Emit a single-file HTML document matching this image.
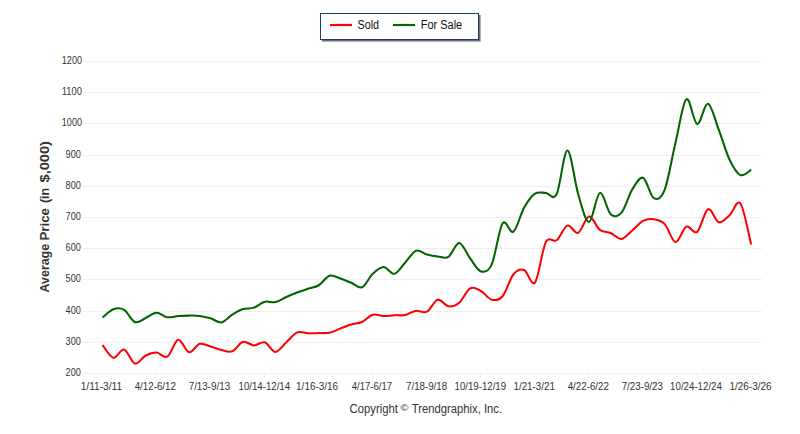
<!DOCTYPE html>
<html><head><meta charset="utf-8"><title>Average Price</title>
<style>
html,body{margin:0;padding:0;background:#fff;}
body{width:800px;height:434px;overflow:hidden;font-family:"Liberation Sans",sans-serif;}
svg{display:block}
text{font-family:"Liberation Sans",sans-serif;}
</style></head><body>
<svg width="800" height="434" viewBox="0 0 800 434">
<rect width="800" height="434" fill="#fff"/>

<g stroke="#eeeeee" stroke-width="1" shape-rendering="crispEdges">
<line x1="83" x2="762" y1="61.5" y2="61.5"/>
<line x1="83" x2="762" y1="92.5" y2="92.5"/>
<line x1="83" x2="762" y1="123.5" y2="123.5"/>
<line x1="83" x2="762" y1="155.5" y2="155.5"/>
<line x1="83" x2="762" y1="186.5" y2="186.5"/>
<line x1="83" x2="762" y1="217.5" y2="217.5"/>
<line x1="83" x2="762" y1="248.5" y2="248.5"/>
<line x1="83" x2="762" y1="279.5" y2="279.5"/>
<line x1="83" x2="762" y1="311.5" y2="311.5"/>
<line x1="83" x2="762" y1="342.5" y2="342.5"/>
<line x1="83" x2="762" y1="373.5" y2="373.5"/>
</g>
<g stroke="#eeeeee" stroke-width="1" shape-rendering="crispEdges">
<line x1="102.5" x2="102.5" y1="373" y2="378"/>
<line x1="156.5" x2="156.5" y1="373" y2="378"/>
<line x1="210.5" x2="210.5" y1="373" y2="378"/>
<line x1="264.5" x2="264.5" y1="373" y2="378"/>
<line x1="318.5" x2="318.5" y1="373" y2="378"/>
<line x1="372.5" x2="372.5" y1="373" y2="378"/>
<line x1="426.5" x2="426.5" y1="373" y2="378"/>
<line x1="480.5" x2="480.5" y1="373" y2="378"/>
<line x1="534.5" x2="534.5" y1="373" y2="378"/>
<line x1="588.5" x2="588.5" y1="373" y2="378"/>
<line x1="642.5" x2="642.5" y1="373" y2="378"/>
<line x1="696.5" x2="696.5" y1="373" y2="378"/>
<line x1="750.5" x2="750.5" y1="373" y2="378"/>
</g>
<g font-size="11" fill="#333">
<text x="61.8" y="64.3" textLength="20.2" lengthAdjust="spacingAndGlyphs">1200</text>
<text x="61.8" y="95.3" textLength="20.2" lengthAdjust="spacingAndGlyphs">1100</text>
<text x="61.8" y="126.3" textLength="20.2" lengthAdjust="spacingAndGlyphs">1000</text>
<text x="65.6" y="158.3" textLength="15.2" lengthAdjust="spacingAndGlyphs">900</text>
<text x="65.6" y="189.3" textLength="15.2" lengthAdjust="spacingAndGlyphs">800</text>
<text x="65.6" y="220.3" textLength="15.2" lengthAdjust="spacingAndGlyphs">700</text>
<text x="65.6" y="251.3" textLength="15.2" lengthAdjust="spacingAndGlyphs">600</text>
<text x="65.6" y="282.3" textLength="15.2" lengthAdjust="spacingAndGlyphs">500</text>
<text x="65.6" y="314.3" textLength="15.2" lengthAdjust="spacingAndGlyphs">400</text>
<text x="65.6" y="345.3" textLength="15.2" lengthAdjust="spacingAndGlyphs">300</text>
<text x="65.6" y="376.3" textLength="15.2" lengthAdjust="spacingAndGlyphs">200</text>
</g>
<g font-size="11" fill="#333">
<text x="80.7" y="390.4" textLength="41.4" lengthAdjust="spacingAndGlyphs">1/11-3/11</text>
<text x="134.7" y="390.4" textLength="41.2" lengthAdjust="spacingAndGlyphs">4/12-6/12</text>
<text x="188.7" y="390.4" textLength="41.4" lengthAdjust="spacingAndGlyphs">7/13-9/13</text>
<text x="238.5" y="390.4" textLength="51.6" lengthAdjust="spacingAndGlyphs">10/14-12/14</text>
<text x="296.1" y="390.4" textLength="42.0" lengthAdjust="spacingAndGlyphs">1/16-3/16</text>
<text x="351.7" y="390.4" textLength="40.4" lengthAdjust="spacingAndGlyphs">4/17-6/17</text>
<text x="406.1" y="390.4" textLength="41.0" lengthAdjust="spacingAndGlyphs">7/18-9/18</text>
<text x="454.5" y="390.4" textLength="51.6" lengthAdjust="spacingAndGlyphs">10/19-12/19</text>
<text x="513.5" y="390.4" textLength="41.4" lengthAdjust="spacingAndGlyphs">1/21-3/21</text>
<text x="567.7" y="390.4" textLength="41.2" lengthAdjust="spacingAndGlyphs">4/22-6/22</text>
<text x="621.7" y="390.4" textLength="41.2" lengthAdjust="spacingAndGlyphs">7/23-9/23</text>
<text x="670.1" y="390.4" textLength="51.8" lengthAdjust="spacingAndGlyphs">10/24-12/24</text>
<text x="729.5" y="390.4" textLength="42.0" lengthAdjust="spacingAndGlyphs">1/26-3/26</text>
</g>
<g font-size="13.5" font-weight="bold" fill="#333">
<text transform="translate(48.9,292.4) rotate(-90)" textLength="48.5" lengthAdjust="spacingAndGlyphs">Average</text>
<text transform="translate(48.9,240.6) rotate(-90)" textLength="32.6" lengthAdjust="spacingAndGlyphs">Price</text>
<text transform="translate(48.9,203.1) rotate(-90)" textLength="15.3" lengthAdjust="spacingAndGlyphs">(in</text>
<text transform="translate(48.9,182.5) rotate(-90)" textLength="41.5" lengthAdjust="spacingAndGlyphs">$,000)</text>
</g>
<g font-size="12" fill="#333">
<text x="349.6" y="412.7" textLength="48.3" lengthAdjust="spacingAndGlyphs">Copyright</text>
<text x="400.4" y="410.6" font-size="9.6" textLength="8" lengthAdjust="spacingAndGlyphs">©</text>
<text x="411.8" y="412.7" textLength="90.3" lengthAdjust="spacingAndGlyphs">Trendgraphix, Inc.</text>
</g>
<path d="M102.50,345.00C104.30,347.12 109.71,357.00 113.31,357.75C116.92,358.50 120.52,348.52 124.12,349.50C127.73,350.48 131.33,362.60 134.94,363.60C138.54,364.60 142.14,357.35 145.75,355.50C149.35,353.65 152.96,352.30 156.56,352.50C160.16,352.70 163.77,358.82 167.37,356.70C170.98,354.57 174.58,340.50 178.18,339.75C181.79,339.00 185.39,351.52 189.00,352.20C192.60,352.88 196.20,344.73 199.81,343.80C203.41,342.87 207.02,345.57 210.62,346.60C214.22,347.63 217.83,349.22 221.43,350.00C225.04,350.78 228.64,352.68 232.24,351.30C235.85,349.93 239.45,342.73 243.06,341.75C246.66,340.77 250.26,345.31 253.87,345.40C257.47,345.49 261.08,341.22 264.68,342.30C268.28,343.38 271.89,351.90 275.49,351.90C279.10,351.90 282.70,345.56 286.30,342.30C289.91,339.04 293.51,333.85 297.12,332.35C300.72,330.85 304.32,333.18 307.93,333.30C311.53,333.42 315.14,333.15 318.74,333.05C322.34,332.95 325.95,333.46 329.55,332.70C333.16,331.94 336.76,329.88 340.36,328.50C343.97,327.12 347.57,325.52 351.18,324.45C354.78,323.38 358.38,323.68 361.99,322.05C365.59,320.43 369.20,315.70 372.80,314.70C376.40,313.70 380.01,315.95 383.61,316.05C387.22,316.15 390.82,315.48 394.42,315.30C398.03,315.12 401.63,315.75 405.24,315.00C408.84,314.25 412.44,311.35 416.05,310.80C419.65,310.25 423.26,313.55 426.86,311.70C430.46,309.85 434.07,300.60 437.67,299.70C441.28,298.80 444.88,305.80 448.48,306.30C452.09,306.80 455.69,305.70 459.30,302.70C462.90,299.70 466.50,290.25 470.11,288.30C473.71,286.35 477.32,289.10 480.92,291.00C484.52,292.90 488.13,298.82 491.73,299.70C495.34,300.57 498.94,300.45 502.54,296.25C506.15,292.05 509.75,278.88 513.36,274.50C516.96,270.12 520.56,268.67 524.17,270.00C527.77,271.33 531.38,287.13 534.98,282.50C538.58,277.87 542.19,249.24 545.79,242.20C549.40,235.16 553.00,243.02 556.60,240.25C560.21,237.48 563.81,226.84 567.42,225.60C571.02,224.36 574.62,234.33 578.23,232.80C581.83,231.27 585.44,216.88 589.04,216.40C592.64,215.92 596.25,227.13 599.85,229.90C603.46,232.67 607.06,231.50 610.66,233.00C614.27,234.50 617.87,239.32 621.48,238.90C625.08,238.48 628.68,233.52 632.29,230.50C635.89,227.48 639.50,222.68 643.10,220.80C646.70,218.93 650.31,218.70 653.91,219.25C657.52,219.80 661.12,220.31 664.72,224.10C668.33,227.89 671.93,241.58 675.54,242.00C679.14,242.42 682.74,228.28 686.35,226.60C689.95,224.92 693.56,234.80 697.16,231.90C700.76,229.00 704.37,210.82 707.97,209.20C711.58,207.58 715.18,221.20 718.78,222.20C722.39,223.20 725.99,218.32 729.60,215.20C733.20,212.08 736.80,198.60 740.41,203.50C744.01,208.40 749.42,237.75 751.22,244.60" fill="none" stroke="#ff0000" stroke-width="2.05" stroke-linejoin="round" stroke-linecap="butt"/>
<path d="M102.50,317.55C104.30,316.16 109.71,310.48 113.31,309.20C116.92,307.92 120.52,307.76 124.12,309.90C127.73,312.04 131.33,320.70 134.94,322.05C138.54,323.40 142.14,319.55 145.75,318.00C149.35,316.45 152.96,312.88 156.56,312.75C160.16,312.62 163.77,316.70 167.37,317.25C170.98,317.80 174.58,316.32 178.18,316.05C181.79,315.78 185.39,315.62 189.00,315.60C192.60,315.58 196.20,315.45 199.81,315.90C203.41,316.35 207.02,317.22 210.62,318.30C214.22,319.38 217.83,323.01 221.43,322.40C225.04,321.79 228.64,316.87 232.24,314.65C235.85,312.43 239.45,310.27 243.06,309.10C246.66,307.93 250.26,308.88 253.87,307.65C257.47,306.42 261.08,302.68 264.68,301.75C268.28,300.82 271.89,302.90 275.49,302.10C279.10,301.30 282.70,298.56 286.30,296.96C289.91,295.36 293.51,293.88 297.12,292.50C300.72,291.12 304.32,289.91 307.93,288.70C311.53,287.49 315.14,287.42 318.74,285.25C322.34,283.08 325.95,276.82 329.55,275.70C333.16,274.58 336.76,277.38 340.36,278.55C343.97,279.73 347.57,281.30 351.18,282.75C354.78,284.20 358.38,288.75 361.99,287.25C365.59,285.75 369.20,277.12 372.80,273.75C376.40,270.38 380.01,267.00 383.61,267.00C387.22,267.00 390.82,274.50 394.42,273.75C398.03,273.00 401.63,266.32 405.24,262.50C408.84,258.68 412.44,252.15 416.05,250.80C419.65,249.45 423.26,253.47 426.86,254.40C430.46,255.33 434.07,256.00 437.67,256.40C441.28,256.80 444.88,259.05 448.48,256.80C452.09,254.55 455.69,242.63 459.30,242.90C462.90,243.17 466.50,253.65 470.11,258.40C473.71,263.15 477.32,270.40 480.92,271.40C484.52,272.40 488.13,272.38 491.73,264.40C495.34,256.42 498.94,228.95 502.54,223.50C506.15,218.05 509.75,234.35 513.36,231.70C516.96,229.05 520.56,213.93 524.17,207.60C527.77,201.27 531.38,196.15 534.98,193.70C538.58,191.25 542.19,192.80 545.79,192.90C549.40,193.00 553.00,201.38 556.60,194.30C560.21,187.22 563.81,150.40 567.42,150.40C571.02,150.40 574.62,182.38 578.23,194.30C581.83,206.22 585.44,222.13 589.04,221.90C592.64,221.67 596.25,194.18 599.85,192.90C603.46,191.62 607.06,210.92 610.66,214.20C614.27,217.48 617.87,216.73 621.48,212.60C625.08,208.47 628.68,195.20 632.29,189.40C635.89,183.60 639.50,176.33 643.10,177.80C646.70,179.27 650.31,196.22 653.91,198.20C657.52,200.18 661.12,198.98 664.72,189.70C668.33,180.42 671.93,157.57 675.54,142.50C679.14,127.43 682.74,102.37 686.35,99.30C689.95,96.23 693.56,123.35 697.16,124.10C700.76,124.85 704.37,102.85 707.97,103.80C711.58,104.75 715.18,120.48 718.78,129.80C722.39,139.12 725.99,152.15 729.60,159.70C733.20,167.25 736.80,173.43 740.41,175.10C744.01,176.77 749.42,170.60 751.22,169.70" fill="none" stroke="#006400" stroke-width="2.05" stroke-linejoin="round" stroke-linecap="butt"/>
<rect x="322" y="15" width="159" height="27" fill="#b5b5b5"/>
<rect x="322" y="15" width="158" height="26" fill="#6e6e6e"/>
<rect x="320.5" y="13.5" width="158" height="26" fill="#fff" stroke="#1f3a6e" stroke-width="1"/>
<line x1="330" x2="352" y1="25" y2="25" stroke="#ff0000" stroke-width="2.2"/>
<text x="357.5" y="29.2" font-size="12.5" fill="#111" textLength="21.5" lengthAdjust="spacingAndGlyphs">Sold</text>
<line x1="393" x2="415" y1="25" y2="25" stroke="#006400" stroke-width="2.2"/>
<text x="420.7" y="29.2" font-size="12.5" fill="#111" textLength="41.5" lengthAdjust="spacingAndGlyphs">For Sale</text>

</svg></body></html>
